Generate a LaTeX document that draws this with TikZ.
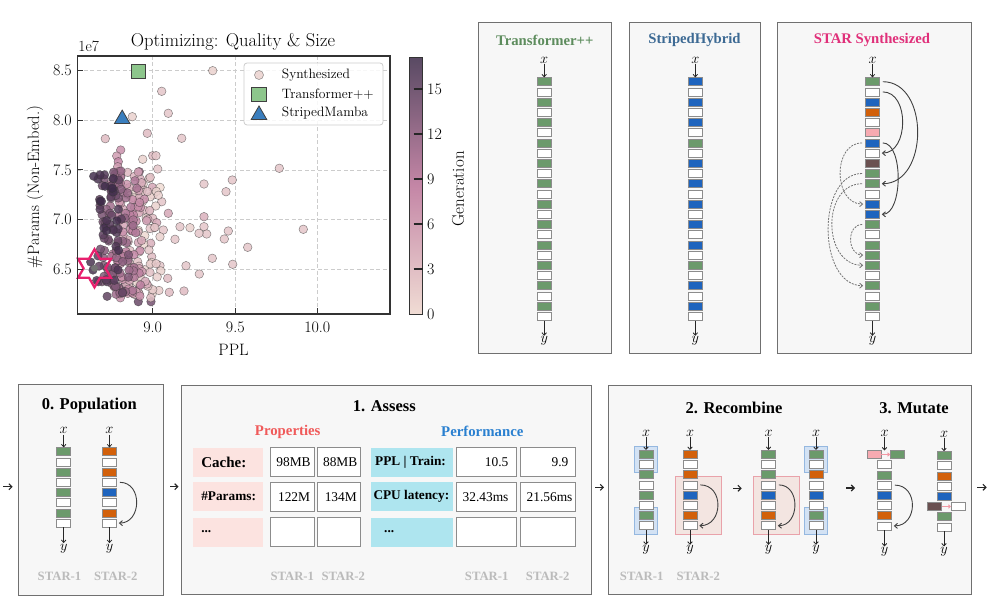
\documentclass[tikz,border=0pt]{standalone}
\usepackage{fontspec}
\newfontfamily\tnr{Liberation Serif}
\usetikzlibrary{arrows.meta,fit,calc,shapes.geometric}
\pgfdeclarelayer{bg}
\pgfdeclarelayer{hl}
\pgfsetlayers{bg,hl,main}
\definecolor{cg}{HTML}{6B9A6B}
\definecolor{cw}{HTML}{FFFFFF}
\definecolor{cb}{HTML}{1E64BE}
\definecolor{co}{HTML}{D2600A}
\definecolor{cp}{HTML}{F7AAB1}
\definecolor{cd}{HTML}{6A5050}
\definecolor{panelbg}{HTML}{F7F7F7}
\definecolor{panelbd}{HTML}{707070}
\definecolor{tgreen}{HTML}{5D8C5D}
\definecolor{tblue}{HTML}{3D6A94}
\definecolor{tmag}{HTML}{E0307A}
\definecolor{propred}{HTML}{F05A5A}
\definecolor{perfblue}{HTML}{2A80D0}
\definecolor{proppink}{HTML}{FCE3E0}
\definecolor{perfcyan}{HTML}{AEE5EF}
\definecolor{starlbl}{HTML}{BBBBBB}
\definecolor{clight}{HTML}{F0DCD4}
\definecolor{cmid}{HTML}{C486A6}
\definecolor{cdark}{HTML}{3C2A48}
\definecolor{gridc}{HTML}{CCCCCC}
\definecolor{starmag}{HTML}{E8206E}
\definecolor{tpfill}{HTML}{8DC68C}
\definecolor{smfill}{HTML}{3A7EBE}
\definecolor{hlblue}{HTML}{D3E2F4}
\definecolor{hlbluebd}{HTML}{95B8E0}
\definecolor{hlpink}{HTML}{F3E5E1}
\definecolor{hlpinkbd}{HTML}{E9A2AA}
\definecolor{pkarrow}{HTML}{F29AA5}
\newcommand\blkcolumn[5]{%
  \foreach \c [count=\k from #4] in {#5} {%
    \node[blk, fill=\c] (#1-\k) at (#2, {#3+\k*10.2}) {};%
  }%
}
\newcommand\iolabels[6]{%
  \node[mlbl] (#1x) at (#2,#3) {$x$};%
  \node[mlbl] (#1y) at (#2,#4) {$y$};%
  \draw[darr] (#1x) -- (#5);%
  \draw[darr] (#6) -- (#1y);%
}
\newcommand\ptcolor[1]{%
  \pgfmathtruncatemacro{\pa}{min(#1,8)*12.5}%
  \pgfmathtruncatemacro{\pb}{max(#1-8,0)*100/9}%
  \colorlet{tmpc}{cmid!\pa!clight}%
  \colorlet{ptc}{cdark!\pb!tmpc}%
}
\begin{document}
\begin{tikzpicture}[x=1pt,y=-1pt,
  blk/.style={draw=black!45, line width=.6pt, minimum width=14pt, minimum height=8pt, inner sep=0pt},
  panel/.style={draw=panelbd, line width=1pt, fill=panelbg, inner sep=0pt},
  mlbl/.style={inner sep=0.5pt, font=\fontsize{15}{15}\selectfont},
  darr/.style={-{Straight Barb[length=2.5pt,width=4.5pt]}, line width=.8pt, black!85},
  arcline/.style={-{Straight Barb[length=3pt,width=5pt]}, line width=.9pt, black!75},
  dshline/.style={-{Straight Barb[length=3pt,width=5pt]}, line width=.8pt, black!55, dash pattern=on 2pt off 1.2pt},
  parr/.style={-{Straight Barb[length=3pt,width=6pt]}, line width=1.1pt, black!85},
  pkarr/.style={-{Straight Barb[length=2pt,width=3.5pt]}, line width=.9pt, pkarrow},
  ttl/.style={font=\tnr\bfseries\fontsize{14.7}{15}\selectfont},
  sectitle/.style={font=\tnr\bfseries\fontsize{16.5}{17}\selectfont},
  starl/.style={font=\tnr\bfseries\fontsize{12.7}{13}\selectfont, text=starlbl},
  hdr/.style={font=\tnr\bfseries\fontsize{14.8}{15}\selectfont},
  lblbox/.style={minimum height=29pt, inner sep=0pt},
  lbltxt/.style={font=\tnr\bfseries\fontsize{13.3}{14}\selectfont, inner sep=0pt, anchor=west},
  valbox/.style={draw=black!45, line width=.7pt, fill=white, minimum height=29pt, inner sep=0pt},
  valtxt/.style={font=\tnr\fontsize{13.4}{14}\selectfont, inner sep=0pt, anchor=east},
  bluehl/.style={draw=hlbluebd, line width=.8pt, fill=hlblue, inner sep=4pt},
  pinkhl/.style={draw=hlpinkbd, line width=.8pt, fill=hlpink},
  tick/.style={font=\fontsize{16}{16}\selectfont, inner sep=0pt},
  pt/.style={fill=ptc, fill opacity=.85, draw=black!80, draw opacity=.55, line width=.5pt},
  gridl/.style={gridc, line width=.8pt, dash pattern=on 4pt off 2.5pt}
]
\begin{pgfonlayer}{bg}
\fill[white] (0,0) rectangle (994,615);
\end{pgfonlayer}
\useasboundingbox (0,0) rectangle (994,615);

% ================= scatter plot =================
\begin{scope}
\clip (77.3,56) rectangle (390,314);
\foreach \gx in {152.7,235.3,317.3} {\draw[gridl] (\gx,56) -- (\gx,314);}
\foreach \gy in {70.7,120.3,170,219.7,269.3} {\draw[gridl] (77.3,\gy) -- (390,\gy);}
\foreach \px/\py/\g in {212.7/70.7/1, 161.7/91.3/2, 132.3/116.7/1, 168.3/113.3/2, 147.3/133.3/3, 181.7/138.3/2, 105.3/138.7/3, 279.3/168.3/2, 204/184/2, 232.3/180/2, 226/191.7/2, 157.7/169/2, 142.7/159.3/1, 152.7/155.7/3, 156/155.7/2, 303.3/229.3/2, 247.7/247.3/2, 228.3/231/2, 224.3/239/2, 212.3/258.3/2, 232.7/264.3/2, 199.3/274/2, 186/265.7/2, 169.3/292.3/3, 184/291/3, 167.7/278.3/3, 160/265.7/2, 180/226.7/2, 190/227.7/1, 204/216.7/4, 204/226.7/2, 206.7/234/2, 199/233.3/2, 175/239.3/2, 168.3/213.3/5, 161.7/201.7/2, 155.7/206/1, 152.3/187.3/5, 153.3/195/2, 152.7/218.3/3, 156.7/222.7/5, 163.3/230/2, 160/236.7/1, 154/227.7/3, 150.7/243.3/4, 151.7/256.7/3, 140/201.7/3, 138.3/189.3/5, 139.3/171.7/10, 120.7/150/7, 116.7/156/6, 118.3/161.7/8, 117.7/166.7/6, 138.3/301.7/14, 151/301.7/13, 139.3/285/10, 140/273.3/10, 125/285/15, 119.3/290/15, 107.7/276.7/14}
{\ptcolor{\g}\path[pt] (\px,\py) circle[radius=4.3pt];}
\pgfmathsetseed{7}
\foreach \i in {0,...,259}{
  \pgfmathsetmacro{\g}{\i*17/260}
  \pgfmathsetmacro{\px}{88+(17-\g)*2.7+rnd*30}
  \pgfmathsetmacro{\py}{170+rnd*128}
  \ptcolor{\g}
  \path[pt] (\px,\py) circle[radius=4.3pt];
}
\end{scope}
% markers
\node[draw=black!75, line width=.8pt, fill=tpfill, minimum size=14.5pt, inner sep=0pt] (tppmark) at (138.3,71.3) {};
\node[regular polygon, regular polygon sides=3, draw=black!75, line width=.8pt, fill=smfill, minimum size=18pt, inner sep=0pt] (smmark) at (122.2,119.1) {};
\node[circle, fill=black!55, minimum size=7pt, inner sep=0pt] (bestpt) at (94.5,268.3) {};
\draw[starmag, line width=2.3pt, line join=miter]
  ([shift={(0,-19)}]bestpt.center) -- ([shift={(-5.485,-9.5)}]bestpt.center) --
  ([shift={(-16.45,-9.5)}]bestpt.center) -- ([shift={(-10.97,0)}]bestpt.center) --
  ([shift={(-16.45,9.5)}]bestpt.center) -- ([shift={(-5.485,9.5)}]bestpt.center) --
  ([shift={(0,19)}]bestpt.center) -- ([shift={(5.485,9.5)}]bestpt.center) --
  ([shift={(16.45,9.5)}]bestpt.center) -- ([shift={(10.97,0)}]bestpt.center) --
  ([shift={(16.45,-9.5)}]bestpt.center) -- ([shift={(5.485,-9.5)}]bestpt.center) -- cycle;
% axes frame and ticks
\draw[black!80, line width=1.3pt] (77.3,56) rectangle (390,314);
\foreach \gx/\t in {152.7/9.0,235.3/9.5,317.3/10.0} {
  \draw[black!80, line width=1pt] (\gx,314) -- (\gx,308);
  \node[tick] (xt\gx) at (\gx,327) {\t};
}
\foreach \gy/\t in {70.7/8.5,120.3/8.0,170/7.5,219.7/7.0,269.3/6.5} {
  \draw[black!80, line width=1pt] (77.3,\gy) -- (83.3,\gy);
  \node[tick, anchor=east] (yt\gy) at (72,\gy) {\t};
}
\node[font=\fontsize{18.5}{19}\selectfont] (ptitle) at (233,41.7) {Optimizing: Quality \& Size};
\node[font=\fontsize{15.5}{16}\selectfont] (pexp) at (88.7,46.7) {1e7};
\node[font=\fontsize{16.5}{17}\selectfont] (pxlab) at (233.5,350) {PPL};
\node[font=\fontsize{16.5}{17}\selectfont, rotate=90] (pylab) at (35,187) {\#Params (Non-Embed.)};
% legend
\node[draw=gridc, line width=.8pt, fill=white, fill opacity=.85, rounded corners=3pt, minimum width=139pt, minimum height=62pt, inner sep=0pt] (legbox) at (313.5,94) {};
\ptcolor{1}
\path[pt] (259,75) circle[radius=4.5pt];
\node[draw=black!75, line width=.8pt, fill=tpfill, minimum size=14.5pt, inner sep=0pt] (legsq) at (259,94.5) {};
\node[regular polygon, regular polygon sides=3, draw=black!75, line width=.8pt, fill=smfill, minimum size=18pt, inner sep=0pt] (legtri) at (259,115) {};
\node[font=\fontsize{13.6}{14}\selectfont, anchor=west, inner sep=0pt] (leg1) at (281.7,75) {Synthesized};
\node[font=\fontsize{13.6}{14}\selectfont, anchor=west, inner sep=0pt] (leg2) at (281.7,94.5) {Transformer++};
\node[font=\fontsize{13.6}{14}\selectfont, anchor=west, inner sep=0pt] (leg3) at (281.7,113.5) {StripedMamba};
% colorbar
\shade[top color=cdark!85!white, bottom color=clight, middle color=cmid] (409.3,57.3) rectangle (422.7,314);
\draw[black!80, line width=1pt] (409.3,57.3) rectangle (422.7,314);
\foreach \gv in {0,3,6,9,12,15} {
  \pgfmathsetmacro{\cy}{314-\gv*15}
  \ifnum\gv>0 \draw[black!85, line width=1.2pt] (413.5,\cy) -- (422.7,\cy); \fi
  \node[tick, anchor=west] (cbt\gv) at (427,\cy) {\gv};
}
\node[font=\fontsize{17}{17}\selectfont, rotate=90] (cblab) at (458,189) {Generation};

% ================= top right panels =================
\begin{pgfonlayer}{bg}
\node[panel, minimum width=133.7pt, minimum height=330.3pt] (pt1) at (544.85,187.85) {};
\node[panel, minimum width=131pt, minimum height=330.3pt] (pt2) at (694.5,187.85) {};
\node[panel, minimum width=194pt, minimum height=330.3pt] (pt3) at (874,187.85) {};
\node[panel, minimum width=145pt, minimum height=211pt] (pb0) at (90.8,489.5) {};
\node[panel, minimum width=410pt, minimum height=209.3pt] (pb1) at (386.7,489.65) {};
\node[panel, minimum width=363.4pt, minimum height=209.3pt] (pb2) at (790,489.65) {};
\end{pgfonlayer}
\node[ttl, text=tgreen] (tt1) at (544.8,40) {Transformer++};
\node[ttl, text=tblue] (tt2) at (694.5,40) {StripedHybrid};
\node[ttl, text=tmag] (tt3) at (872,40) {STAR Synthesized};
\blkcolumn{t1}{544.2}{81.7}{0}{cg,cw,cg,cw,cg,cw,cg,cw,cg,cw,cg,cw,cg,cw,cg,cw,cg,cw,cg,cw,cg,cw,cg,cw}
\blkcolumn{t2}{695.3}{81.7}{0}{cb,cw,cb,cw,cb,cw,cg,cw,cb,cw,cb,cw,cb,cw,cb,cw,cb,cw,cg,cw,cb,cw,cb,cw}
\blkcolumn{s}{872.5}{81.7}{0}{cg,cw,cb,co,cw,cp,cb,cw,cd,cg,cg,cw,cb,cb,cg,cw,cg,cg,cg,cw,cg,cw,cg,cw}
\iolabels{t1}{544.2}{60}{341}{t1-0}{t1-23}
\iolabels{t2}{695.3}{60}{341}{t2-0}{t2-23}
\iolabels{s}{872.5}{60}{341}{s-0}{s-23}
% solid skip connections
\draw[arcline] ([xshift=3pt]s-0.east) .. controls +(47,0) and +(47,0) .. ([xshift=2pt]s-10.east);
\draw[arcline] ([xshift=3pt]s-1.east) .. controls +(27,0) and +(27,0) .. ([xshift=2pt]s-7.east);
\draw[arcline] ([xshift=3pt]s-6.east) .. controls +(21,0) and +(21,0) .. ([xshift=2pt]s-13.east);
% dashed skip connections
\draw[dshline] ([xshift=-3pt]s-6.west) .. controls +(-30,0) and +(-30,0) .. ([xshift=-2pt]s-12.west);
\draw[dshline] ([xshift=-3pt]s-9.west) .. controls +(-46,0) and +(-46,0) .. ([xshift=-2pt]s-20.west);
\draw[dshline] ([xshift=-3pt]s-10.west) .. controls +(-41,0) and +(-41,0) .. ([xshift=-2pt]s-18.west);
\draw[dshline] ([xshift=-3pt]s-14.west) .. controls +(-16,0) and +(-16,0) .. ([xshift=-2pt]s-17.west);

% ================= 0. Population =================
\node[sectitle] (p0t) at (89.3,406) {0. Population};
\blkcolumn{pa}{63.7}{451.7}{0}{cg,cw,cg,cw,cg,cw,cg,cw}
\blkcolumn{pbb}{109.5}{451.7}{0}{co,cw,co,cw,cb,cw,co,cw}
\iolabels{pa}{63.7}{430.7}{548.3}{pa-0}{pa-7}
\iolabels{pbb}{109.5}{430.7}{548.3}{pbb-0}{pbb-7}
\draw[arcline] ([xshift=3pt]pbb-3.east) .. controls +(23,0) and +(23,0) .. ([xshift=2pt]pbb-7.east);
\node[starl] (p0s1) at (59.5,576.7) {STAR-1};
\node[starl] (p0s2) at (115.8,576.7) {STAR-2};

% ================= 1. Assess =================
\node[sectitle] (p1t) at (384.3,406) {1. Assess};
\node[hdr, text=propred] (prophdr) at (287.7,431.7) {Properties};
\node[hdr, text=perfblue] (perfhdr) at (482.3,431.7) {Performance};
\foreach \r/\ry in {1/462.2,2/496.7,3/532} {
  \node[lblbox, fill=proppink, minimum width=70pt] (pl\r) at (228.3,\ry) {};
  \node[valbox, minimum width=43.3pt] (pv\r a) at (292.3,\ry) {};
  \node[valbox, minimum width=43.3pt] (pv\r b) at (339,\ry) {};
  \node[lblbox, fill=perfcyan, minimum width=82pt] (fl\r) at (411.7,\ry) {};
  \node[valbox, minimum width=60pt] (fv\r a) at (486.7,\ry) {};
  \node[valbox, minimum width=55.7pt] (fv\r b) at (547.8,\ry) {};
}
\node[lbltxt, font=\tnr\bfseries\fontsize{15}{15}\selectfont] (pl1t) at ([xshift=8pt]pl1.west) {Cache:};
\node[lbltxt] (pl2t) at ([xshift=8pt]pl2.west) {\#Params:};
\node[lbltxt] (pl3t) at ([xshift=8pt]pl3.west) {...};
\node[lbltxt] (fl1t) at ([xshift=4.5pt]fl1.west) {PPL | Train:};
\node[lbltxt] (fl2t) at ([xshift=2.8pt]fl2.west) {CPU latency:};
\node[lbltxt] (fl3t) at ([xshift=13.5pt]fl3.west) {...};
\node[valtxt] (pv1at) at ([xshift=-3.5pt]pv1a.east) {98MB};
\node[valtxt] (pv1bt) at ([xshift=-3.5pt]pv1b.east) {88MB};
\node[valtxt] (pv2at) at ([xshift=-4pt]pv2a.east) {122M};
\node[valtxt] (pv2bt) at ([xshift=-4pt]pv2b.east) {134M};
\node[valtxt] (fv1at) at ([xshift=-8.5pt]fv1a.east) {10.5};
\node[valtxt] (fv1bt) at ([xshift=-7.4pt]fv1b.east) {9.9};
\node[valtxt] (fv2at) at ([xshift=-8.4pt]fv2a.east) {32.43ms};
\node[valtxt] (fv2bt) at ([xshift=-3.4pt]fv2b.east) {21.56ms};
\node[starl] (p1s1) at (292.3,576) {STAR-1};
\node[starl] (p1s2) at (343.3,576) {STAR-2};
\node[starl] (p1s3) at (486.7,576) {STAR-1};
\node[starl] (p1s4) at (547.7,576) {STAR-2};

% ================= 2. Recombine / 3. Mutate =================
\node[sectitle] (p2t) at (734,408.3) {2. Recombine};
\node[sectitle] (p3t) at (914,408.3) {3. Mutate};
\blkcolumn{ra}{646}{454.3}{0}{cg,cw,cg,cw,cg,cw,cg,cw}
\blkcolumn{rb}{690}{454.3}{0}{co,cw,co,cw,cb,cw,co,cw}
\blkcolumn{rc}{768.5}{454.3}{0}{cg,cw,cg,cw,cb,cw,co,cw}
\blkcolumn{rd}{816}{454.3}{0}{cg,cw,co,cw,cb,cw,cg,cw}
\iolabels{ra}{646}{433.3}{550}{ra-0}{ra-7}
\iolabels{rb}{690}{433.3}{550}{rb-0}{rb-7}
\iolabels{rc}{768.5}{433.3}{550}{rc-0}{rc-7}
\iolabels{rd}{816}{433.3}{550}{rd-0}{rd-7}
\begin{pgfonlayer}{hl}
\node[bluehl, fit=(ra-0)(ra-1)] (hla1) {};
\node[bluehl, fit=(ra-6)(ra-7)] (hla2) {};
\node[bluehl, fit=(rd-0)(rd-1)] (hld1) {};
\node[bluehl, fit=(rd-6)(rd-7)] (hld2) {};
\draw[pinkhl] ([xshift=-7pt,yshift=4pt]rb-3.north west) rectangle ([xshift=23.7pt,yshift=-4pt]rb-7.south east);
\draw[pinkhl] ([xshift=-8.2pt,yshift=4pt]rc-3.north west) rectangle ([xshift=23.5pt,yshift=-4pt]rc-7.south east);
\end{pgfonlayer}
\draw[arcline] ([xshift=3pt]rb-3.east) .. controls +(24,0) and +(24,0) .. ([xshift=2pt]rb-7.east);
\draw[arcline] ([xshift=3pt]rc-3.east) .. controls +(22,0) and +(22,0) .. ([xshift=2pt]rc-7.east);
\node[starl] (p2s1) at (641.7,576.7) {STAR-1};
\node[starl] (p2s2) at (698.3,576.7) {STAR-2};
% mutate columns
\blkcolumn{me}{884.5}{454.5}{1}{cw,cg,cw,cb,cw,co,cw}
\node[blk, fill=cp] (me-0a) at (874,454.5) {};
\node[blk, fill=cg] (me-0b) at (897.5,454.5) {};
\coordinate (me-0) at (884.5,450.5);
\draw[pkarr] (me-0a) -- (me-0b);
\iolabels{me}{884.5}{433.3}{551.7}{me-0}{me-7}
\draw[arcline] ([xshift=3pt]me-3.east) .. controls +(24,0) and +(24,0) .. ([xshift=2pt]me-7.east);
\blkcolumn{mf}{944}{455.5}{0}{cg,cw,co,cw,cb}
\blkcolumn{mf}{944}{455.5}{6}{cg,cw}
\node[blk, fill=cd] (mf-5a) at (934.3,506.5) {};
\node[blk, fill=cw] (mf-5b) at (958.3,506.5) {};
\draw[pkarr] (mf-5a) -- (mf-5b);
\iolabels{mf}{944}{434.5}{551.7}{mf-0}{mf-7}

% ================= arrows between stages =================
\coordinate (a0s) at (3.3,486.7);
\coordinate (a0e) at (12.7,486.7);
\coordinate (a1s) at (170,486.7);
\coordinate (a1e) at (178.5,486.7);
\coordinate (a2s) at (595,487.3);
\coordinate (a2e) at (604,487.3);
\coordinate (a3s) at (733.3,488.3);
\coordinate (a3e) at (741.7,488.3);
\coordinate (a4s) at (846,488);
\coordinate (a4e) at (855,488);
\coordinate (a5s) at (977.3,487.3);
\coordinate (a5e) at (986.7,487.3);
\foreach \n in {0,...,5} {\draw[parr] (a\n s) -- (a\n e);}
\end{tikzpicture}
\end{document}
